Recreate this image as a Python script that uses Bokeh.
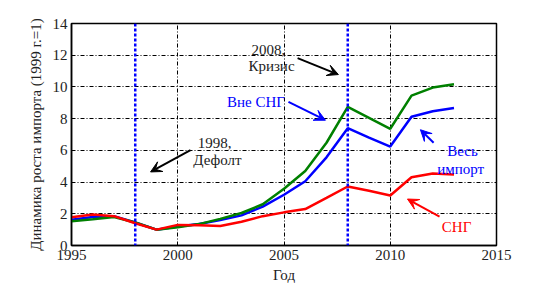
from bokeh.plotting import figure
from bokeh.models import Span, Label, Arrow, VeeHead, FixedTicker, Range1d
from bokeh.embed import file_html
from bokeh.resources import INLINE

years = list(range(1995, 2014))
total = [1.62, 1.80, 1.85, 1.45, 1.00, 1.20, 1.35, 1.60, 1.90, 2.45, 3.20, 4.05, 5.56, 7.40, 6.80, 6.24, 8.12, 8.47, 8.67]
non_cis = [1.53, 1.65, 1.80, 1.45, 1.00, 1.15, 1.35, 1.68, 2.05, 2.60, 3.58, 4.70, 6.48, 8.74, 8.05, 7.36, 9.45, 9.96, 10.17]
cis = [1.78, 1.96, 1.85, 1.40, 1.00, 1.30, 1.27, 1.23, 1.50, 1.85, 2.09, 2.30, 3.00, 3.72, 3.45, 3.15, 4.30, 4.54, 4.48]

x_ticks = [1995, 2000, 2005, 2010, 2015]
y_ticks = [0, 2, 4, 6, 8, 10, 12, 14]
event_years = [1998, 2008]

FONT = "Liberation Serif"

p = figure(width=541, height=285, output_backend="svg", toolbar_location=None,
           x_range=Range1d(1995, 2015), y_range=Range1d(0, 14),
           min_border_left=71, min_border_right=45, min_border_top=23, min_border_bottom=34)
p.background_fill_color = "white"
p.border_fill_color = "white"
p.outline_line_color = "black"
p.outline_line_width = 1.5

for ax in (p.xaxis[0], p.yaxis[0]):
    ax.major_label_text_font = FONT
    ax.major_label_text_font_size = "15px"
    ax.major_label_text_color = "#222222"
    ax.axis_label_text_font = FONT
    ax.axis_label_text_font_size = "15px"
    ax.axis_label_text_font_style = "normal"
    ax.axis_label_text_color = "#222222"
    ax.major_tick_in = 0
    ax.major_tick_out = 0
    ax.minor_tick_in = 0
    ax.minor_tick_out = 0
    ax.axis_line_color = "black"
    ax.axis_line_width = 1.5

p.xaxis.ticker = FixedTicker(ticks=x_ticks)
p.yaxis.ticker = FixedTicker(ticks=y_ticks)
p.xaxis.axis_label = "Год"
p.yaxis.axis_label = "Динамика роста импорта (1999 г.=1)"
p.xaxis.major_label_standoff = 4
p.yaxis.major_label_standoff = 4
p.xaxis.axis_label_standoff = 4
p.yaxis.axis_label_standoff = 6

for g in (p.xgrid[0], p.ygrid[0]):
    g.grid_line_color = "black"
    g.grid_line_dash = "4 2 1 2"
    g.grid_line_width = 1

for yr in event_years:
    p.add_layout(Span(location=yr, dimension="height", line_color="#0000ff",
                      line_width=2.5, line_dash="3 2"))

p.line(years, total, line_color="#0000ff", line_width=2.5)
p.line(years, non_cis, line_color="#008000", line_width=2.5)
p.line(years, cis, line_color="#ff0000", line_width=2.5)

# annotations: (x, y, text, color)
labels = [
    (2001.73, 6.48, "1998,", "#222222"),
    (2001.87, 5.38, "Дефолт", "#222222"),
    (2004.27, 12.31, "2008,", "#222222"),
    (2004.41, 11.30, "Кризис", "#222222"),
    (2003.68, 9.03, "Вне СНГ", "#0000ff"),
    (2013.40, 5.96, "Весь", "#0000ff"),
    (2013.31, 4.83, "импорт", "#0000ff"),
    (2013.12, 1.18, "СНГ", "#ff0000"),
]
for lx, ly, t, c in labels:
    p.add_layout(Label(x=lx, y=ly, text=t, text_color=c, text_font=FONT,
                       text_font_size="15px", text_align="center", text_baseline="middle"))

# arrows: (x_start, y_start, x_end, y_end, color)
arrows = [
    (2000.60, 6.01, 1998.72, 4.64, "black"),
    (2005.64, 11.82, 2007.56, 10.78, "black"),
    (2005.21, 9.06, 2006.95, 7.90, "#0000ff"),
    (2012.04, 6.48, 2011.42, 7.30, "#0000ff"),
    (2012.32, 1.82, 2010.81, 2.93, "#ff0000"),
]
for x0, y0, x1, y1, c in arrows:
    p.add_layout(Arrow(x_start=x0, y_start=y0, x_end=x1, y_end=y1,
                       line_color=c, line_width=2,
                       end=VeeHead(size=11, fill_color=c, line_color=c)))

open("out.html", "w").write(file_html(p, INLINE))
